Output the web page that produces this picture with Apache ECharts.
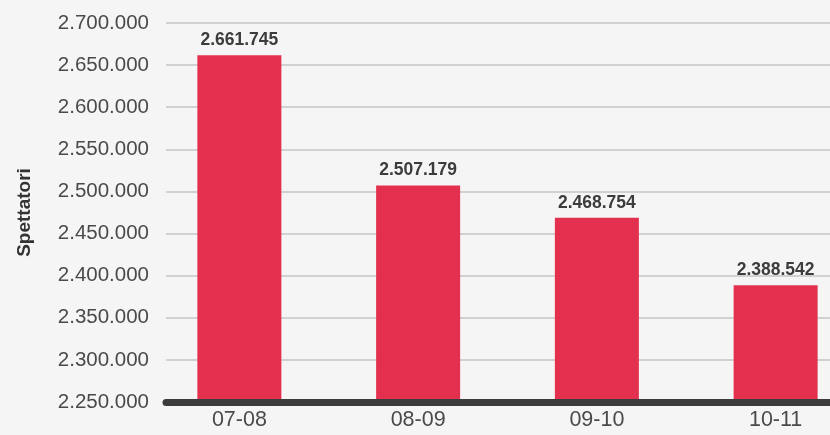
<!DOCTYPE html>
<html><head><meta charset="utf-8">
<script src="https://cdn.jsdelivr.net/npm/echarts@6/dist/echarts.min.js"></script>
<style>html,body{margin:0;padding:0;background:#f5f5f5}#c{width:830px;height:435px}</style>
</head><body><div id="c"></div>
<script>
const categories = ['07-08', '08-09', '09-10', '10-11'];
const spettatori = [2661745, 2507179, 2468754, 2388542];
const yMin = 2250000, yMax = 2700000, yStep = 50000;
const yName = 'Spettatori';

const fmt = v => String(v).replace(/\B(?=(\d{3})+(?!\d))/g, '.');
const font = '"Liberation Sans", Arial, sans-serif';

const chart = echarts.init(document.getElementById('c'));
chart.setOption({
  backgroundColor: '#f5f5f5',
  animation: false,
  grid: [
    {left: 150, width: 715, top: 23, bottom: 33, outerBoundsMode: 'none', containLabel: false},
    {left: 166, width: 700, top: 23, bottom: 33, outerBoundsMode: 'none', containLabel: false}
  ],
  xAxis: [
    {type: 'category', gridIndex: 0, data: categories,
     axisLine: {show: false}, axisTick: {show: false},
     axisLabel: {color: '#4a4a4a', fontSize: 21.5, fontFamily: font, margin: 7}},
    {type: 'category', gridIndex: 1, data: categories, z: 10,
     axisLine: {show: true, lineStyle: {color: '#3c3c3c', width: 7, cap: 'round'}},
     axisTick: {show: false}, axisLabel: {show: false}}
  ],
  yAxis: [
    {type: 'value', gridIndex: 0, min: yMin, max: yMax, interval: yStep, show: false},
    {type: 'value', gridIndex: 1, min: yMin, max: yMax, interval: yStep,
     name: yName, nameLocation: 'middle', nameGap: 132,
     nameTextStyle: {color: '#333', fontSize: 19, fontWeight: 'bold', fontFamily: font},
     axisLine: {show: false}, axisTick: {show: false},
     axisLabel: {color: '#4a4a4a', fontSize: 20.5, fontFamily: font, margin: 17, formatter: fmt},
     splitLine: {lineStyle: {color: '#c4c4c4', width: 1.5}}}
  ],
  series: [{
    type: 'bar', xAxisIndex: 0, yAxisIndex: 0,
    data: spettatori, barWidth: 84,
    itemStyle: {color: '#E3304E'},
    label: {show: true, position: 'top', distance: 6, formatter: p => fmt(p.value),
            color: '#3c3c3c', fontSize: 17.5, fontWeight: 'bold', fontFamily: font}
  }]
});
</script></body></html>
